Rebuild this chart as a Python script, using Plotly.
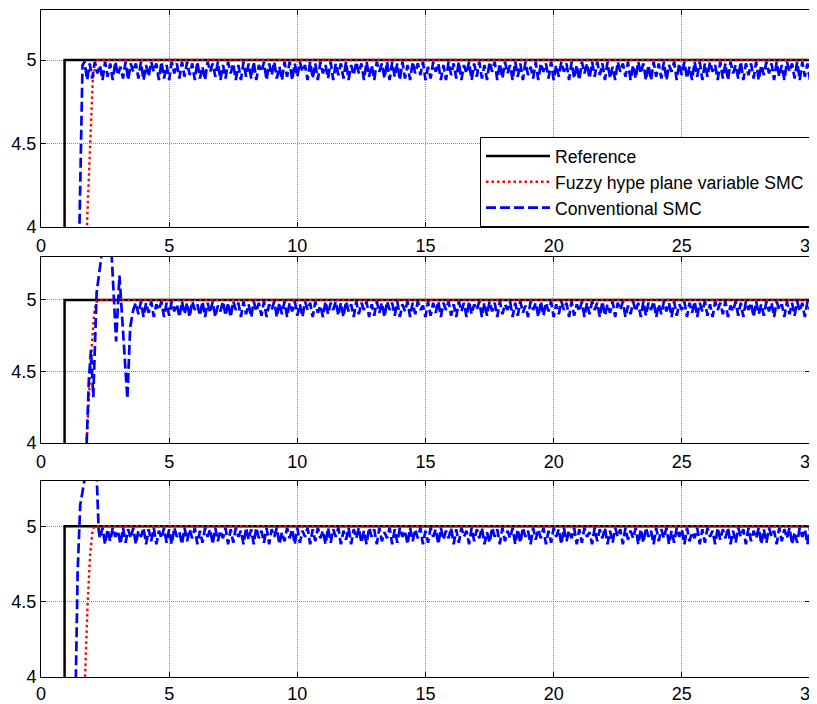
import numpy as np
import plotly.graph_objects as go

# ---------------- data ----------------
x_ticks = [0, 5, 10, 15, 20, 25, 30]
y_ticks = [4, 4.5, 5]
names = ["Reference", "Fuzzy hype plane variable SMC", "Conventional SMC"]

# reference step (same in all panels)
ref_t = [0, 0.92, 0.92, 30]
ref_y = [0, 0, 5, 5]

# fuzzy hyper-plane variable SMC (red)
fz1_t = [0, 1.6, 1.79, 1.9, 2.02, 2.12, 2.22, 30]
fz1_y = [0, 3.2, 4.0, 4.45, 4.88, 4.97, 5.0, 5.0]
fz2_t = [0, 1.6, 1.78, 1.95, 2.08, 2.16, 2.22, 30]
fz2_y = [0, 3.2, 4.0, 4.6, 4.92, 4.98, 5.0, 5.0]
fz3_t = [0, 1.55, 1.72, 1.82, 1.92, 2.01, 2.08, 30]
fz3_y = [0, 3.2, 4.0, 4.49, 4.82, 4.97, 5.0, 5.0]

# conventional SMC (blue) - transient part
cs1_t = [0, 1.42, 1.5, 1.56, 1.62]
cs1_y = [0, 3.5, 4.0, 4.55, 4.97]
cs2_t = [0, 1.7, 1.78, 1.87, 1.95, 2.04, 2.17, 2.24, 2.33, 2.5, 2.62, 2.76, 2.93, 3.06, 3.37, 3.48]
cs2_y = [0, 3.5, 4.0, 4.45, 4.65, 4.32, 5.05, 5.15, 5.3, 5.5, 5.48, 5.3, 4.71, 5.17, 4.31, 4.81]
cs3_t = [0, 1.3, 1.36, 1.43, 1.53, 1.62, 1.69, 1.85, 2.0, 2.18, 2.25]
cs3_y = [0, 3.7, 4.0, 4.70, 5.14, 5.23, 5.3, 5.55, 5.5, 5.3, 4.97]

# conventional SMC (blue) - chattering part, one sample every 0.1 s
chat_dt = 0.1
cs1_start = 1.7
cs1_chat = [
    4.99, 4.88, 4.98, 4.89, 4.99, 4.92, 4.97, 4.88, 4.99, 4.90, 4.98, 4.88, 4.99, 4.91, 4.96, 4.89, 4.99, 4.88, 4.98, 4.93,
    4.98, 4.89, 4.99, 4.88, 4.97, 4.90, 4.99, 4.93, 4.98, 4.88, 4.99, 4.89, 4.97, 4.88, 4.99, 4.92, 4.98, 4.89, 4.99, 4.90,
    4.99, 4.91, 4.98, 4.88, 4.99, 4.89, 4.96, 4.88, 4.99, 4.93, 4.98, 4.90, 4.99, 4.88, 4.97, 4.89, 4.99, 4.92, 4.98, 4.88,
    4.97, 4.88, 4.99, 4.90, 4.98, 4.89, 4.99, 4.88, 4.97, 4.93, 4.99, 4.88, 4.98, 4.91, 4.99, 4.89, 4.96, 4.88, 4.99, 4.90,
    4.99, 4.88, 4.98, 4.90, 4.99, 4.93, 4.97, 4.88, 4.99, 4.89, 4.98, 4.88, 4.99, 4.92, 4.97, 4.89, 4.99, 4.88, 4.98, 4.91,
    4.98, 4.89, 4.99, 4.88, 4.97, 4.91, 4.99, 4.92, 4.98, 4.88, 4.99, 4.90, 4.97, 4.88, 4.99, 4.93, 4.98, 4.89, 4.99, 4.88,
    4.99, 4.90, 4.98, 4.88, 4.99, 4.89, 4.97, 4.88, 4.99, 4.92, 4.98, 4.91, 4.99, 4.88, 4.96, 4.89, 4.99, 4.93, 4.98, 4.88,
    4.97, 4.88, 4.99, 4.91, 4.98, 4.89, 4.99, 4.88, 4.97, 4.92, 4.99, 4.88, 4.98, 4.90, 4.99, 4.89, 4.97, 4.88, 4.99, 4.93,
    4.99, 4.88, 4.98, 4.89, 4.99, 4.92, 4.97, 4.88, 4.99, 4.90, 4.98, 4.88, 4.99, 4.91, 4.96, 4.89, 4.99, 4.88, 4.98, 4.93,
    4.98, 4.89, 4.99, 4.88, 4.97, 4.90, 4.99, 4.93, 4.98, 4.88, 4.99, 4.89, 4.97, 4.88, 4.99, 4.92, 4.98, 4.89, 4.99, 4.90,
    4.99, 4.91, 4.98, 4.88, 4.99, 4.89, 4.96, 4.88, 4.99, 4.93, 4.98, 4.90, 4.99, 4.88, 4.97, 4.89, 4.99, 4.92, 4.98, 4.88,
    4.97, 4.88, 4.99, 4.90, 4.98, 4.89, 4.99, 4.88, 4.97, 4.93, 4.99, 4.88, 4.98, 4.91, 4.99, 4.89, 4.96, 4.88, 4.99, 4.90,
    4.99, 4.88, 4.98, 4.90, 4.99, 4.93, 4.97, 4.88, 4.99, 4.89, 4.98, 4.88, 4.99, 4.92, 4.97, 4.89, 4.99, 4.88, 4.98, 4.91,
    4.98, 4.89, 4.99, 4.88, 4.97, 4.91, 4.99, 4.92, 4.98, 4.88, 4.99, 4.90, 4.97, 4.88, 4.99, 4.93, 4.98, 4.89, 4.99, 4.88,
    4.99, 4.90, 4.98, 4.88, 4.99, 4.89, 4.97, 4.88, 4.99, 4.92, 4.98, 4.91, 4.99, 4.88, 4.96, 4.89, 4.99, 4.93, 4.98, 4.88,
]
cs2_start = 3.6
cs2_chat = [
    4.93, 4.98, 4.90, 4.99, 4.88, 4.98, 4.91, 4.99, 4.88, 4.97, 4.93, 4.99, 4.88, 4.98, 4.89, 4.99, 4.92, 4.97, 4.88, 4.99,
    4.90, 4.98, 4.88, 4.99, 4.93, 4.97, 4.89, 4.99, 4.88, 4.98, 4.91, 4.99, 4.88, 4.96, 4.92, 4.99, 4.89, 4.98, 4.88, 4.99,
    4.93, 4.98, 4.88, 4.99, 4.90, 4.97, 4.88, 4.99, 4.92, 4.98, 4.89, 4.99, 4.88, 4.97, 4.93, 4.99, 4.88, 4.98, 4.90, 4.99,
    4.88, 4.98, 4.92, 4.99, 4.89, 4.97, 4.88, 4.99, 4.93, 4.98, 4.88, 4.99, 4.91, 4.96, 4.88, 4.99, 4.90, 4.98, 4.93, 4.99,
    4.89, 4.98, 4.88, 4.99, 4.92, 4.97, 4.88, 4.99, 4.90, 4.98, 4.93, 4.99, 4.88, 4.97, 4.89, 4.99, 4.91, 4.98, 4.88, 4.99,
    4.93, 4.98, 4.89, 4.99, 4.88, 4.97, 4.92, 4.99, 4.88, 4.98, 4.90, 4.99, 4.93, 4.96, 4.88, 4.99, 4.89, 4.98, 4.91, 4.99,
    4.88, 4.98, 4.93, 4.99, 4.89, 4.97, 4.88, 4.99, 4.92, 4.98, 4.88, 4.99, 4.90, 4.97, 4.93, 4.99, 4.88, 4.98, 4.89, 4.99,
    4.92, 4.98, 4.88, 4.99, 4.90, 4.97, 4.93, 4.99, 4.88, 4.98, 4.89, 4.99, 4.91, 4.96, 4.88, 4.99, 4.93, 4.98, 4.88, 4.99,
    4.89, 4.98, 4.92, 4.99, 4.88, 4.97, 4.90, 4.99, 4.93, 4.98, 4.88, 4.99, 4.89, 4.97, 4.92, 4.99, 4.88, 4.98, 4.90, 4.99,
    4.93, 4.98, 4.88, 4.99, 4.89, 4.97, 4.91, 4.99, 4.88, 4.98, 4.93, 4.99, 4.88, 4.96, 4.90, 4.99, 4.92, 4.98, 4.88, 4.99,
    4.89, 4.98, 4.93, 4.99, 4.88, 4.97, 4.90, 4.99, 4.92, 4.98, 4.88, 4.99, 4.89, 4.97, 4.93, 4.99, 4.88, 4.98, 4.91, 4.99,
    4.88, 4.98, 4.92, 4.99, 4.89, 4.97, 4.88, 4.99, 4.93, 4.98, 4.90, 4.99, 4.88, 4.96, 4.92, 4.99, 4.89, 4.98, 4.88, 4.99,
    4.93, 4.98, 4.88, 4.99, 4.90, 4.97, 4.89, 4.99, 4.92, 4.98, 4.88, 4.99, 4.93, 4.97, 4.88, 4.99, 4.90, 4.98, 4.89, 4.99,
    4.92, 4.98, 4.88, 4.99, 4.93, 4.97, 4.89, 4.99, 4.88, 4.98, 4.91, 4.99, 4.88, 4.96, 4.93, 4.99, 4.89, 4.98, 4.88, 4.99,
]
cs3_start = 2.3
cs3_chat = [
    4.92, 4.99, 4.88, 4.98, 4.90, 4.99, 4.93, 4.97, 4.88, 4.99, 4.89, 4.98, 4.92, 4.99, 4.88, 4.97, 4.93, 4.99, 4.88, 4.98,
    4.90, 4.99, 4.88, 4.97, 4.92, 4.99, 4.89, 4.98, 4.88, 4.99, 4.93, 4.96, 4.88, 4.99, 4.90, 4.98, 4.92, 4.99, 4.88, 4.97,
    4.89, 4.99, 4.93, 4.98, 4.88, 4.99, 4.90, 4.97, 4.92, 4.99, 4.88, 4.98, 4.89, 4.99, 4.93, 4.97, 4.88, 4.99, 4.91, 4.98,
    4.88, 4.99, 4.92, 4.97, 4.89, 4.99, 4.88, 4.98, 4.93, 4.99, 4.88, 4.96, 4.90, 4.99, 4.92, 4.98, 4.88, 4.99, 4.89, 4.97,
    4.93, 4.99, 4.88, 4.98, 4.90, 4.99, 4.92, 4.97, 4.88, 4.99, 4.89, 4.98, 4.93, 4.99, 4.88, 4.97, 4.91, 4.99, 4.88, 4.98,
    4.92, 4.99, 4.89, 4.97, 4.88, 4.99, 4.93, 4.98, 4.88, 4.99, 4.90, 4.96, 4.92, 4.99, 4.88, 4.98, 4.89, 4.99, 4.93, 4.97,
    4.88, 4.99, 4.90, 4.98, 4.92, 4.99, 4.88, 4.97, 4.89, 4.99, 4.93, 4.98, 4.88, 4.99, 4.91, 4.97, 4.92, 4.99, 4.88, 4.98,
    4.89, 4.99, 4.93, 4.97, 4.88, 4.99, 4.90, 4.98, 4.92, 4.99, 4.88, 4.96, 4.89, 4.99, 4.93, 4.98, 4.88, 4.99, 4.90, 4.97,
    4.92, 4.99, 4.88, 4.98, 4.89, 4.99, 4.93, 4.97, 4.88, 4.99, 4.91, 4.98, 4.92, 4.99, 4.88, 4.97, 4.89, 4.99, 4.93, 4.98,
    4.88, 4.99, 4.90, 4.97, 4.92, 4.99, 4.88, 4.98, 4.89, 4.99, 4.93, 4.96, 4.88, 4.99, 4.90, 4.98, 4.92, 4.99, 4.88, 4.97,
    4.89, 4.99, 4.93, 4.98, 4.88, 4.99, 4.91, 4.97, 4.92, 4.99, 4.88, 4.98, 4.89, 4.99, 4.93, 4.97, 4.88, 4.99, 4.90, 4.98,
    4.92, 4.99, 4.88, 4.97, 4.89, 4.99, 4.93, 4.98, 4.88, 4.99, 4.90, 4.96, 4.92, 4.99, 4.88, 4.98, 4.89, 4.99, 4.93, 4.97,
    4.88, 4.99, 4.91, 4.98, 4.92, 4.99, 4.88, 4.97, 4.89, 4.99, 4.93, 4.98, 4.88, 4.99, 4.90, 4.97, 4.92, 4.99, 4.88, 4.98,
    4.89, 4.99, 4.93, 4.97, 4.88, 4.99, 4.90, 4.98, 4.92, 4.99, 4.88, 4.96, 4.89, 4.99, 4.93, 4.98, 4.88, 4.99, 4.91, 4.97,
]

# ---------------- figure ----------------
FONT = "Liberation Sans, Arial, sans-serif"
panels = [
    (fz1_t, fz1_y, cs1_t, cs1_y, cs1_start, cs1_chat),
    (fz2_t, fz2_y, cs2_t, cs2_y, cs2_start, cs2_chat),
    (fz3_t, fz3_y, cs3_t, cs3_y, cs3_start, cs3_chat),
]
# panel domains in paper coords (top, middle, bottom)
domains = [[0.6747, 1.0], [0.3508, 0.6297], [0.0, 0.2939]]
x_standoff = [2, 2, 0]

fig = go.Figure()
for i, (ft, fy, ct, cy, cstart, cchat) in enumerate(panels):
    ax = "" if i == 0 else str(i + 1)
    xa, ya = "x" + ax, "y" + ax
    blue_t = list(ct) + list(cstart + chat_dt * np.arange(len(cchat)))
    blue_y = list(cy) + list(cchat)
    fig.add_trace(go.Scatter(x=ref_t, y=ref_y, mode="lines", name=names[0],
                             line=dict(color="black", width=2.5),
                             xaxis=xa, yaxis=ya, showlegend=(i == 0)))
    fig.add_trace(go.Scatter(x=ft, y=fy, mode="lines", name=names[1],
                             line=dict(color="red", width=2.4, dash="2.5px,3px"),
                             xaxis=xa, yaxis=ya, showlegend=(i == 0)))
    fig.add_trace(go.Scatter(x=blue_t, y=blue_y, mode="lines", name=names[2],
                             line=dict(color="blue", width=2.7, dash="10px,4px"),
                             xaxis=xa, yaxis=ya, showlegend=(i == 0)))

axis_common = dict(showline=True, linecolor="black", linewidth=1, mirror="ticks",
                   ticks="inside", ticklen=5, tickcolor="black", tickwidth=1,
                   showgrid=True, gridcolor="#8c8c8c", gridwidth=1, griddash="1px,1px",
                   zeroline=False, automargin=False, ticklabeloverflow="allow",
                   tickfont=dict(family=FONT, size=18, color="black"))

# the page body adds an 8px offset, so the figure is 8px smaller than the window
layout = dict(width=809, height=696, plot_bgcolor="white", paper_bgcolor="white",
              margin=dict(l=33, r=7, t=2, b=27), font=dict(family=FONT, color="black"))
for i in range(3):
    ax = "" if i == 0 else str(i + 1)
    layout["xaxis" + ax] = dict(axis_common, range=[0, 30], tickvals=x_ticks,
                                anchor="y" + ax, domain=[0, 1],
                                ticklabelstandoff=x_standoff[i])
    layout["yaxis" + ax] = dict(axis_common, range=[4, 5.3], tickvals=y_ticks,
                                anchor="x" + ax, domain=domains[i])

layout["legend"] = dict(x=1, xanchor="right", y=domains[0][0], yanchor="bottom",
                        bgcolor="white", bordercolor="black", borderwidth=1,
                        font=dict(family=FONT, size=17.6, color="black"),
                        itemwidth=64, tracegroupgap=0)
fig.update_layout(**layout)

fig.write_html("out.html")
